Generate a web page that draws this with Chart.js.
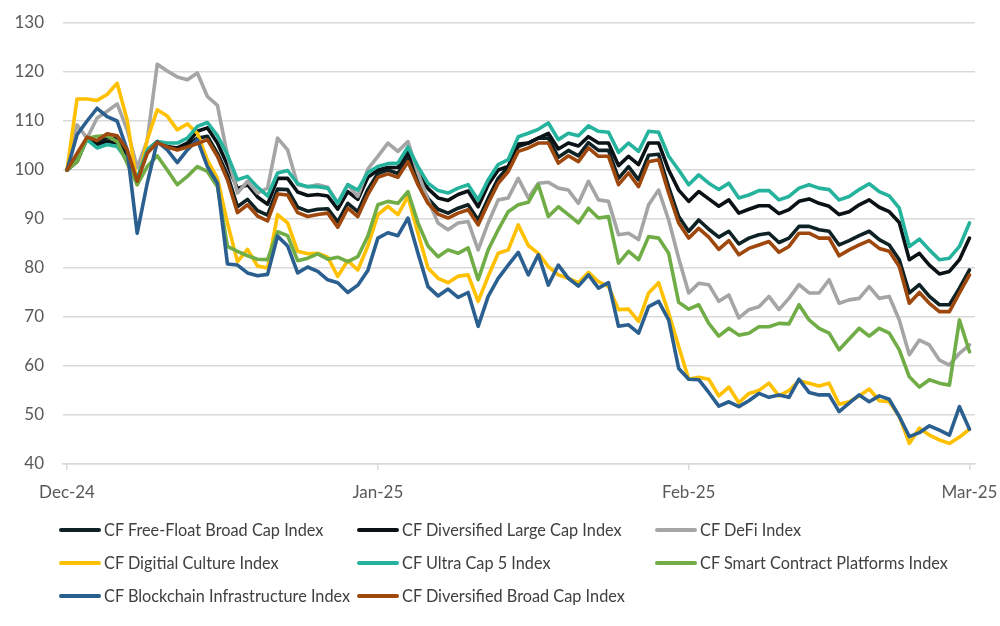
<!DOCTYPE html>
<html><head><meta charset="utf-8">
<script src="https://cdn.jsdelivr.net/npm/chart.js@4.4.1/dist/chart.umd.min.js"></script>
<style>
html,body{margin:0;padding:0;background:#fff;}
#wrap{position:relative;width:1000px;height:626px;overflow:hidden;}
#c{position:absolute;left:0;top:0;}
.lg{position:absolute;font-family:Lato,sans-serif;color:#404040;white-space:nowrap;line-height:20px;}
.lg i{position:absolute;display:block;height:4px;width:42px;border-radius:2px;}
</style></head><body>
<div id="wrap"><canvas id="c" width="1000" height="626"></canvas><div id="legend"></div></div>
<script>
// Daily closes (index = days since 2024-12-01), rebased to 100
const tickDays = [0, 31, 62, 90];
const tickLabels = ['Dec-24', 'Jan-25', 'Feb-25', 'Mar-25'];

const freeFloatBroadCap = [100,102.5,106.6,105.6,106.6,106.3,103.4,97.9,103.8,105.7,104.7,104.3,105.1,106.5,106.9,103.4,
 99,92.5,94,91.7,90.8,96.1,96,92.4,91.6,92,92.1,89.4,93.2,91.5,96,
 99.3,100,99.3,102.5,98,94.2,92,91.2,92.2,92.9,89.8,94.2,98.3,100.6,104.8,105.5,
 106.5,106.5,102.6,104,102.9,105.6,104,104,98.3,100.7,98,103,103.2,96.5,90.5,
 87.5,89.8,87.9,86.3,87.5,84.9,86.1,86.8,87.1,85.2,86.1,88.5,88.5,87.8,87.5,
 84.7,85.6,86.6,87.5,85.8,84.7,81.7,74.9,76.6,74.2,72.5,72.5,75.9,79.6];
const diversifiedLargeCap = [100,101.7,106.5,105.2,105.8,105.5,102.8,98,104.1,105.8,104.8,104.5,105.5,107.9,108.6,105.5,
 101,96.2,97,94.5,93,98.3,98.3,95.5,94.8,95,94.7,92,95.6,94,98.5,
 100,100.5,100.5,103.7,99.5,96.2,94.3,93.8,95,95.7,92.5,97,100,100.7,105.3,105.5,
 106.5,107.5,104.3,105.5,104.9,106.8,105.5,105.5,100.9,102.8,101.1,105.5,105.5,100,95.9,
 93.6,95.6,94.1,92.6,93.9,91.2,92,92.7,92.7,91.1,91.9,93.6,94.1,93.2,92.6,
 90.9,91.5,92.9,93.9,92.4,91.5,89.3,81.7,83,80.6,78.8,79.3,81.7,86.1];
const defi = [100,109.2,106.5,110.6,112,113.5,108.2,100.5,106,121.6,120.2,119,118.4,119.8,115,113.2,
 103,95.3,97.7,95.3,96.3,106.5,104.1,97,96.6,97,96.5,93.2,97,94.6,100.2,
 102.8,105.5,103.8,105.8,99.4,93.9,89.2,87.8,89.2,89.5,83.7,89.2,93.9,94.3,98.3,94.3,
 97.3,97.5,96.3,95.9,93.2,97.7,93.9,93.6,86.8,87.1,85.8,92.9,95.9,89.8,82,
 74.9,76.9,76.6,73.2,74.5,69.8,71.5,72.1,74.2,71.5,73.8,76.6,74.9,74.9,77.6,
 72.8,73.5,73.8,76.2,73.8,74.2,69.4,62.3,65.3,64.3,61.2,60.2,62.6,64.3];
const digitalCulture = [100,114.5,114.5,114.2,115.4,117.7,110.2,97,106.2,112.3,111,108.2,109.4,107.5,102,98.3,
 89.2,81.3,83.8,80.4,80,90.9,89.2,83.4,82.9,83,82.2,78.3,81.5,79.6,84.5,
 90.9,92.6,90.9,94.6,87.1,80,77.9,77,78.3,78.6,73.2,78.3,83,83.7,88.8,84.6,
 83,80.3,78.6,77.9,77,79.1,77.2,76.2,71.5,71.6,69.1,74.9,77,70.8,64,
 57.3,57.7,57.3,53.9,55.7,52.5,54.4,55,56.5,53.9,55,57,56.5,55.9,56.5,
 52.2,52.7,53.9,55.3,52.9,52.7,49.7,44.2,47.3,45.9,44.9,44.2,45.5,47.1];
const ultraCap5 = [100,102,106.2,104.5,105.2,104.8,102,98.3,104.1,105.8,105.5,105.5,106.5,108.9,109.7,107,
 103.1,98,98.7,96.5,94.7,99.4,99.9,97.2,96.6,96.6,96.3,93.2,97,95.9,99.5,
 100.7,101.3,101.4,104.7,100.7,97.3,95.8,95.3,96.3,97,93.9,98,101.1,102.1,106.8,107.5,
 108.3,109.6,106.2,107.5,107,109,107.9,107.7,103.6,105.5,103.8,107.9,107.7,102.8,100,
 97,99,97.3,96,97.3,94.3,94.9,95.8,95.8,93.9,94.6,96.3,97,96.3,96,
 93.9,94.6,96,97.2,95.6,94.7,92.2,84.4,85.9,83.7,81.7,82,84.4,89.2];
const smartContract = [100,101.7,106.5,106.9,107,105.8,101.4,97,100.7,102.9,100,97,98.7,100.7,99.7,96.6,
 84.4,83.4,82.5,81.8,81.7,87.4,86.6,81.5,82,82.9,81.8,82.2,81.3,82.3,86.5,
 92.9,93.6,93.2,95.6,89.2,84.5,82.3,83.7,83,84.1,77.6,83.7,87.8,91.5,92.9,93.4,
 97,90.5,92.5,90.9,89.2,92.2,90.2,90.5,81,83.4,81.7,86.4,86.1,83,73,
 71.6,72.5,68.7,66.1,67.7,66.3,66.7,68,68,68.7,68.6,72.5,69.4,67.7,66.7,
 63.3,65.5,67.7,66.1,67.7,66.7,63.3,57.8,55.7,57.2,56.5,56.1,69.4,62.9];
const blockchainInfra = [100,107.2,110,112.6,110.9,110,104.1,87.1,97.3,105.8,104.1,101.5,104.1,106.2,100.7,97.3,
 80.8,80.6,79,78.4,78.7,86.5,84.5,79,80.2,79.3,77.6,77,75,76.5,79.5,
 86.1,87.2,86.6,90.2,83,76.2,74.3,75.7,74,75,68.1,74.2,77.9,80.6,83.2,78.6,
 82.7,76.5,80.6,77.9,76.3,78.6,75.9,77,68.1,68.4,66.7,72.1,73.2,69.4,59.5,
 57.3,57.2,54.6,51.8,52.7,51.7,52.9,54.4,53.6,54.1,53.6,57.3,54.6,54.1,54.1,
 50.7,52.4,54.1,52.7,53.9,53.2,49.7,45.6,46.4,47.8,46.9,45.9,51.7,47.1];
const diversifiedBroadCap = [100,103.4,106.7,106,107.4,107,104.1,97.7,103.4,105.6,104.7,104.1,104.7,105.4,106.2,102.8,
 98,91.3,92.9,90.6,89.6,95.1,94.9,91.3,90.5,90.9,91.2,88.3,92.2,90.5,95,
 98.5,99.2,98.5,101.7,97,93.2,91,90.2,91.2,91.9,88.8,93.2,97.3,99.7,103.8,104.5,
 105.5,105.5,101.4,102.9,101.7,104.5,102.8,102.8,97,99.4,96.6,101.7,102.1,95.3,89.2,
 86.1,88.1,86.3,83.8,85.6,82.7,84,84.7,85.4,83.2,84.4,87.1,87.1,86.1,86.1,
 82.5,83.7,84.7,85.6,84,83.4,80.3,72.8,75,72.8,71.1,71.1,74.9,78.6];

const seriesNames = ['CF Free-Float Broad Cap Index','CF Diversified Large Cap Index','CF DeFi Index',
 'CF Digitial Culture Index','CF Ultra Cap 5 Index','CF Smart Contract Platforms Index',
 'CF Blockchain Infrastructure Index','CF Diversified Broad Cap Index'];
const seriesValues = [freeFloatBroadCap, diversifiedLargeCap, defi, digitalCulture, ultraCap5, smartContract, blockchainInfra, diversifiedBroadCap];
const seriesColors = ['#0e2226','#0b1215','#a5a5a5','#ffc000','#25b39e','#70ad47','#2a5f90','#9e480e'];

const datasets = seriesNames.map((name, k) => ({
  label: name,
  data: seriesValues[k].map((v, i) => ({x: i, y: v})),
  borderColor: seriesColors[k],
  backgroundColor: seriesColors[k],
  borderWidth: 3.6,
  pointRadius: 0,
  tension: 0,
  borderJoinStyle: 'round',
  borderCapStyle: 'round',
  order: seriesNames.length - k
}));

const axisFont = {family: 'Lato, sans-serif', size: 17};
new Chart(document.getElementById('c'), {
  type: 'line',
  data: {datasets},
  options: {
    responsive: false,
    animation: false,
    devicePixelRatio: 1,
    layout: {padding: {top: 23, right: 25, bottom: 112, left: 0}},
    plugins: {legend: {display: false}, tooltip: {enabled: false}},
    scales: {
      x: {
        type: 'linear', min: -0.4, max: 90.55,
        afterBuildTicks: s => { s.ticks = tickDays.map(v => ({value: v})); },
        afterFit: s => { s.height = 50; s.paddingLeft = 0; s.paddingRight = 0; s.paddingTop = 0; s.paddingBottom = 0; },
        ticks: {callback: v => tickLabels[tickDays.indexOf(v)], color: '#595959', font: axisFont, padding: 12, maxRotation: 0, autoSkip: false},
        grid: {display: true, drawOnChartArea: false, drawTicks: true, tickLength: 6, color: '#d9d9d9', lineWidth: 1.5},
        border: {display: true, color: '#d9d9d9', width: 1.5}
      },
      y: {
        min: 40, max: 130,
        afterFit: s => { s.width = 63; s.paddingLeft = 0; s.paddingRight = 0; s.paddingTop = 0; s.paddingBottom = 0; },
        ticks: {stepSize: 10, color: '#595959', font: axisFont, padding: 19},
        grid: {color: '#d9d9d9', lineWidth: 1.5, drawTicks: false},
        border: {display: false}
      }
    }
  }
});

// Legend (three columns, row-major)
const legendCols = [59, 357, 655];
const legendRows = [530, 563, 596];
const lg = document.getElementById('legend');
seriesNames.forEach((name, k) => {
  const d = document.createElement('div');
  d.className = 'lg';
  d.style.left = legendCols[k % 3] + 'px';
  d.style.top = (legendRows[Math.floor(k / 3)] - 10) + 'px';
  d.style.fontSize = '16.3px';
  d.style.paddingLeft = '45px';
  const sw = document.createElement('i');
  sw.style.background = seriesColors[k];
  sw.style.left = '0px';
  sw.style.top = '8px';
  d.appendChild(sw);
  d.appendChild(document.createTextNode(name));
  lg.appendChild(d);
});
</script></body></html>
